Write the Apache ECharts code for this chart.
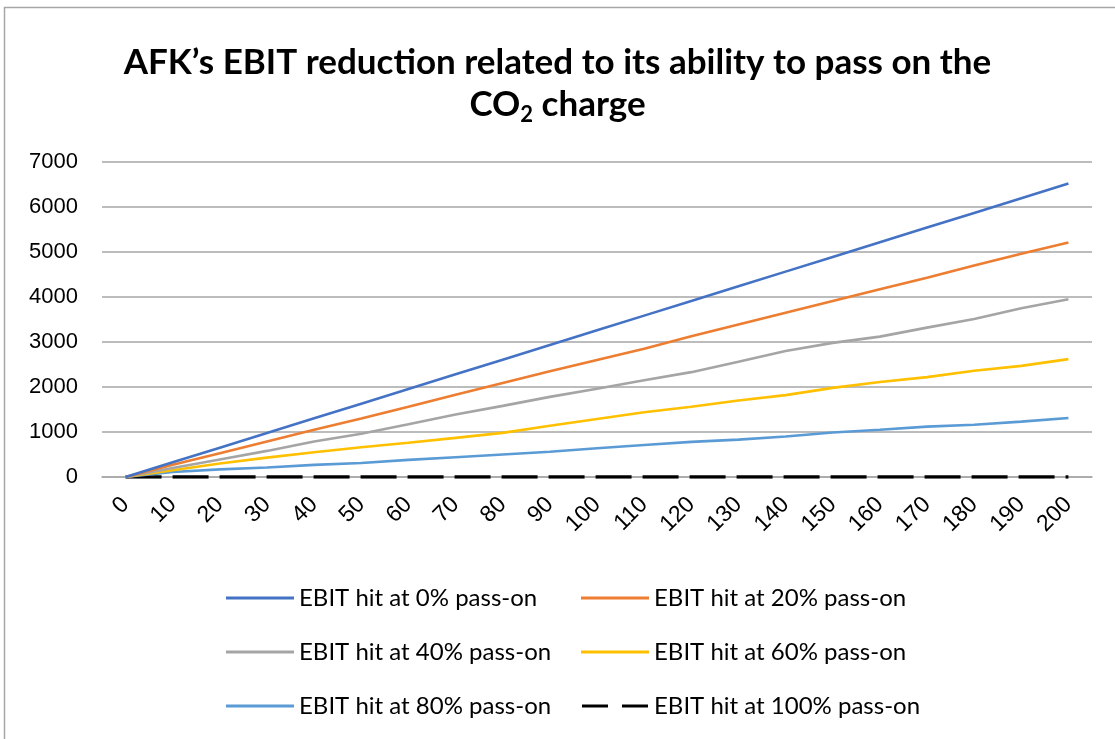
<!DOCTYPE html>
<html>
<head>
<meta charset="utf-8">
<title>AFK EBIT reduction</title>
<script src="https://cdn.jsdelivr.net/npm/echarts@6/dist/echarts.min.js"></script>
<style>
  html, body { margin: 0; padding: 0; background: #fff; }
  #chart { width: 1115px; height: 739px; }
</style>
</head>
<body>
<div id="chart"></div>
<script>
// CO2 price steps
var categories = ['0','10','20','30','40','50','60','70','80','90','100','110','120','130','140','150','160','170','180','190','200'];
var yTicks = [0, 1000, 2000, 3000, 4000, 5000, 6000, 7000];

var seriesNames = [
    'EBIT hit at 0% pass-on',
    'EBIT hit at 20% pass-on',
    'EBIT hit at 40% pass-on',
    'EBIT hit at 60% pass-on',
    'EBIT hit at 80% pass-on',
    'EBIT hit at 100% pass-on'
];
var hit0   = [0, 326, 652, 978, 1304, 1630, 1956, 2282, 2608, 2934, 3260, 3586, 3912, 4238, 4564, 4890, 5216, 5542, 5868, 6194, 6520];
var hit20  = [0, 270, 530, 790, 1050, 1300, 1560, 1830, 2090, 2350, 2600, 2850, 3130, 3390, 3650, 3910, 4170, 4430, 4700, 4960, 5210];
var hit40  = [0, 200, 390, 580, 790, 960, 1170, 1390, 1580, 1780, 1960, 2150, 2330, 2560, 2800, 2980, 3120, 3320, 3510, 3750, 3950];
var hit60  = [0, 150, 300, 430, 550, 660, 760, 870, 980, 1140, 1290, 1440, 1560, 1700, 1820, 1980, 2110, 2220, 2360, 2470, 2620];
var hit80  = [0, 110, 170, 210, 270, 310, 380, 440, 500, 560, 640, 710, 780, 830, 900, 990, 1050, 1120, 1160, 1230, 1310];
var hit100 = [0, 0, 0, 0, 0, 0, 0, 0, 0, 0, 0, 0, 0, 0, 0, 0, 0, 0, 0, 0, 0];

var colors = ['#4472C4', '#ED7D31', '#A5A5A5', '#FFC000', '#5B9BD5', '#000000'];
var allData = [hit0, hit20, hit40, hit60, hit80, hit100];

var solidIcon = 'path://M0,0H68V3H0Z';
var dashIcon = 'path://M0,0H26V3H0Z M40,0H66V3H40Z';

var chart = echarts.init(document.getElementById('chart'));

function mkSeries(i) {
    return {
        name: seriesNames[i],
        type: 'line',
        data: allData[i],
        symbol: 'none',
        smooth: false,
        z: 10 - i,
        lineStyle: {
            width: i == 5 ? 3.5 : 2.6,
            color: colors[i],
            type: i == 5 ? [36, 11] : 'solid'
        },
        itemStyle: { color: colors[i] }
    };
}

var series = [];
for (var i = 0; i < seriesNames.length; i++) {
    series.push(mkSeries(i));
}

function legendItem(i) {
    return { name: seriesNames[i], icon: i == 5 ? dashIcon : solidIcon };
}

var legendText = { fontFamily: 'Lato, "Open Sans", sans-serif', fontSize: 24, color: '#000' };

var option = {
    animation: false,
    backgroundColor: '#fff',
    graphic: [{
        type: 'rect',
        silent: true,
        shape: { x: 4.5, y: 7.5, width: 1300, height: 900 },
        style: { fill: 'none', stroke: '#a6a6a6', lineWidth: 1.5 }
    }],
    title: {
        text: 'AFK\u2019s EBIT reduction related to its ability to pass on the\nCO{sub|2} charge',
        left: 'center',
        top: 37,
        textStyle: {
            fontFamily: 'Lato, "Open Sans", sans-serif',
            fontWeight: 'bold',
            fontSize: 35,
            lineHeight: 42,
            color: '#000',
            rich: {
                sub: {
                    fontFamily: 'Lato, "Open Sans", sans-serif',
                    fontWeight: 'bold',
                    fontSize: 22,
                    verticalAlign: 'bottom',
                    padding: [16, 0, 0, 0],
                    color: '#000'
                }
            }
        }
    },
    grid: {
        left: 102,
        right: 23,
        top: 162,
        bottom: 262,
        containLabel: false
    },
    legend: [{
        orient: 'vertical',
        left: 221,
        top: 581,
        itemWidth: 68,
        itemHeight: 3,
        itemGap: 30,
        textStyle: legendText,
        data: [legendItem(0), legendItem(2), legendItem(4)]
    }, {
        orient: 'vertical',
        left: 576,
        top: 581,
        itemWidth: 68,
        itemHeight: 3,
        itemGap: 30,
        textStyle: legendText,
        data: [legendItem(1), legendItem(3), legendItem(5)]
    }],
    xAxis: {
        type: 'category',
        data: categories,
        boundaryGap: true,
        axisLine: { show: true, lineStyle: { color: '#a6a6a6', width: 1.5 } },
        axisTick: { show: false },
        axisLabel: {
            rotate: 45,
            interval: 0,
            margin: 24,
            fontFamily: '"Liberation Sans", Arial, sans-serif',
            fontSize: 23,
            color: '#000'
        }
    },
    yAxis: {
        type: 'value',
        min: yTicks[0],
        max: yTicks[yTicks.length - 1],
        interval: 1000,
        axisLine: { show: false },
        axisTick: { show: false },
        splitLine: { lineStyle: { color: '#a6a6a6', width: 1.5 } },
        axisLabel: {
            margin: 24,
            formatter: function (v) { return String(v); },
            fontFamily: '"Liberation Sans", Arial, sans-serif',
            fontSize: 22,
            color: '#000'
        }
    },
    series: series
};

chart.setOption(option);
window.addEventListener('resize', function () {
    chart.resize();
});
</script>
</body>
</html>
